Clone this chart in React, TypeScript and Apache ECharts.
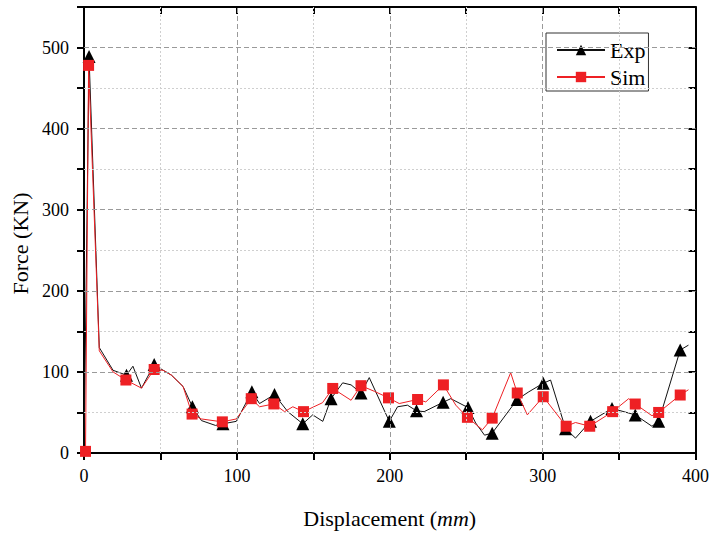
import React, { useEffect, useRef } from 'react';
import * as echarts from 'echarts';

const FONT = "'Liberation Serif', 'Times New Roman', serif";

// Exp curve (black, triangle markers where expMark = 1)
const expX = [0, 3.3, 10, 19, 27.8, 32, 37.6, 45.9, 51.8, 57.2, 64.8, 70.9, 76.8, 86, 90.9, 99.6, 109.8, 114.8, 124.6, 133.3, 143.1, 149.6, 156.2, 161.6, 169.2, 174.7, 181.2, 186.6, 199.7, 205.1, 211.6, 217.5, 222.5, 234.9, 239.9, 251.2, 256.2, 262, 267, 283.4, 291, 300.4, 305.2, 315, 321.5, 331.3, 345.4, 360.6, 371.5, 375.9, 390, 395.4];
const expY = [0, 489, 130, 102, 96, 107, 80, 109, 102, 96, 82, 57, 40, 34, 36, 39, 75.5, 61, 72, 51, 36, 47, 39, 67, 86.5, 84, 74, 93, 39, 57, 59, 52, 51, 62.5, 67, 56, 37, 22, 24.5, 66, 75.5, 86, 90, 30, 18.4, 39, 55, 47, 33, 39, 127, 133];
const expMark = [0, 1, 0, 0, 1, 0, 0, 1, 0, 0, 0, 1, 0, 0, 1, 0, 1, 0, 1, 0, 1, 0, 0, 1, 0, 0, 1, 0, 1, 0, 0, 1, 0, 1, 0, 1, 0, 0, 1, 1, 0, 1, 0, 1, 0, 1, 1, 1, 0, 1, 1, 0];

// Sim curve (red, square markers where simMark = 1)
const simX = [1, 3, 10, 19, 27.4, 37.6, 45.9, 51.8, 57.2, 64.8, 70.7, 76.8, 90.5, 99.6, 109.4, 114.8, 124.2, 131.2, 136.6, 143.6, 156, 162.7, 174.7, 181.2, 190, 199.2, 206.2, 218.2, 223.6, 235.1, 243.2, 250.8, 260.6, 267, 279.1, 283.4, 290, 300.4, 315.4, 321.5, 330.8, 345.8, 356.3, 360.6, 371.5, 375.9, 390, 395.4];
const simY = [2, 478, 126, 100, 90, 80, 103, 102, 96, 82, 48, 42, 38.4, 42, 67, 57, 60.5, 51, 57, 51, 62, 79.6, 65, 83, 76, 68, 61, 66, 63, 84, 59, 44, 28.6, 43, 99, 74, 47, 69.4, 33, 37.6, 33, 51, 67, 60.4, 46, 50, 71.5, 78];
const simMark = [1, 1, 0, 0, 1, 0, 1, 0, 0, 0, 1, 0, 1, 0, 1, 0, 1, 0, 0, 1, 0, 1, 0, 1, 0, 1, 0, 1, 0, 1, 0, 1, 0, 1, 0, 1, 0, 1, 1, 0, 1, 1, 0, 1, 0, 1, 1, 0];

// grid lines
const majorX = [100, 200, 300];
const minorX = [50, 150, 250, 350];
const majorY = [100, 200, 300, 400, 500];
const minorY = [50, 150, 250, 350, 450];

const RED = '#ee2024';

export default function App() {
  const ref = useRef<HTMLDivElement>(null);
  useEffect(() => {
    if (!ref.current) return;
    const chart = echarts.init(ref.current, undefined, { renderer: 'svg' });
    const majorStyle = { color: '#9a9a9a', type: [5, 3], width: 1 };
    const minorStyle = { color: '#cfcfcf', type: [2, 2], width: 1 };
    const gridLines: any[] = [
      ...majorX.map((v) => ({ xAxis: v, lineStyle: majorStyle })),
      ...minorX.map((v) => ({ xAxis: v, lineStyle: minorStyle })),
      ...majorY.map((v) => ({ yAxis: v, lineStyle: majorStyle })),
      ...minorY.map((v) => ({ yAxis: v, lineStyle: minorStyle })),
    ];
    const baseX = {
      type: 'value', min: 0, max: 400, interval: 50,
      axisLine: { show: true, onZero: false, lineStyle: { color: '#000', width: 2 } },
      splitLine: { show: false },
    };
    const baseY = {
      type: 'value', min: 0, max: 550, interval: 50,
      axisLine: { show: true, onZero: false, lineStyle: { color: '#000', width: 2 } },
      splitLine: { show: false },
    };
    const tickStyle = { color: '#000', width: 2 };
    chart.setOption({
      animation: false,
      backgroundColor: '#fff',
      grid: { left: 84, right: 15, top: 7, bottom: 77 },
      xAxis: [
        {
          ...baseX, position: 'bottom',
          axisTick: { length: 7, lineStyle: tickStyle },
          axisLabel: {
            formatter: (v: number) => (v % 100 === 0 ? String(v) : ''),
            fontSize: 18, color: '#000', fontFamily: FONT, margin: 14,
          },
          name: '{a|Displacement (}{b|mm}{a|)}',
          nameLocation: 'middle', nameGap: 54,
          nameTextStyle: {
            rich: {
              a: { fontSize: 22, fontFamily: FONT, color: '#000' },
              b: { fontSize: 22, fontFamily: FONT, color: '#000', fontStyle: 'italic' },
            },
          },
        },
        {
          ...baseX, position: 'top',
          axisTick: { inside: true, length: 7, lineStyle: tickStyle },
          axisLabel: { show: false },
        },
      ],
      yAxis: [
        {
          ...baseY, position: 'left',
          axisTick: { length: 7, lineStyle: tickStyle },
          axisLabel: {
            formatter: (v: number) => (v % 100 === 0 ? String(v) : ''),
            fontSize: 18, color: '#000', fontFamily: FONT, margin: 15,
          },
          name: 'Force (KN)', nameLocation: 'middle', nameGap: 53,
          nameTextStyle: { fontSize: 22, fontFamily: FONT, color: '#000', padding: [0, 27, 0, 0] },
        },
        {
          ...baseY, position: 'right',
          axisTick: { inside: true, length: 7, lineStyle: tickStyle },
          axisLabel: { show: false },
        },
      ],
      legend: {
        data: ['Exp', 'Sim'],
        orient: 'vertical', left: 546, top: 33,
        itemWidth: 48, itemHeight: 13, itemGap: 5,
        padding: [6, 3, 3, 10],
        borderColor: '#333', borderWidth: 1,
        textStyle: { fontSize: 22, fontFamily: FONT, color: '#000' },
      },
      series: [
        {
          name: 'grid', type: 'line', data: [], silent: true, z: 1,
          markLine: { silent: true, symbol: ['none', 'none'], label: { show: false }, data: gridLines },
        },
        {
          name: 'Exp', type: 'line', z: 3,
          symbol: 'triangle', symbolSize: 13, showAllSymbol: true,
          itemStyle: { color: '#000' },
          lineStyle: { color: '#111', width: 1 },
          data: expX.map((x, i) => ({ value: [x, expY[i]], symbol: expMark[i] ? 'triangle' : 'none' })),
        },
        {
          name: 'Sim', type: 'line', z: 4,
          symbol: 'rect', symbolSize: 11, showAllSymbol: true,
          itemStyle: { color: RED },
          lineStyle: { color: RED, width: 1 },
          data: simX.map((x, i) => ({ value: [x, simY[i]], symbol: simMark[i] ? 'rect' : 'none' })),
        },
      ],
    });
    return () => chart.dispose();
  }, []);
  return <div ref={ref} style={{ position: 'fixed', left: 0, top: 0, width: 712, height: 534 }} />;
}
